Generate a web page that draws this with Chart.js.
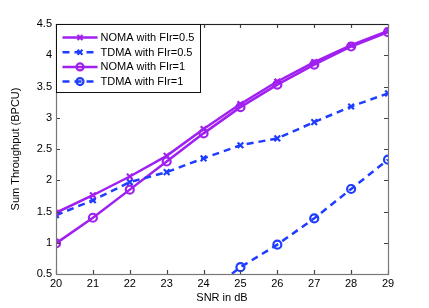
<!DOCTYPE html>
<html><head><meta charset="utf-8">
<script src="https://cdn.jsdelivr.net/npm/chart.js@4"></script>
<style>html,body{margin:0;padding:0;background:#fff}#w{width:429px;height:308px}</style>
</head><body><div id="w"><canvas id="c" width="429" height="308"></canvas></div>
<script>
const snr = [20,21,22,23,24,25,26,27,28,29];
const noma05 = [1.48,1.76,2.06,2.39,2.82,3.22,3.58,3.89,4.16,4.39];
const tdma05 = [1.44,1.68,1.97,2.13,2.35,2.56,2.67,2.93,3.18,3.39];
const noma1  = [0.99,1.40,1.85,2.30,2.75,3.17,3.53,3.85,4.14,4.37];
const tdma1  = [null,null,null,null,0.15,0.61,0.97,1.39,1.86,2.33];
const yTicks = [0.5,1,1.5,2,2.5,3,3.5,4,4.5];
const labels = ['NOMA with FIr=0.5','TDMA with FIr=0.5','NOMA with FIr=1','TDMA with FIr=1'];
const PURPLE = '#a020f0', BLUE = '#1f3dff';
const FONT = '"Liberation Sans", Arial, sans-serif';

function ds(label, data, color, style, dashed){
  return {label, data: data.map((v,i)=>({x:snr[i], y:v})), borderColor:color, backgroundColor:'rgba(0,0,0,0)',
    pointBorderColor:color, pointBackgroundColor:'rgba(0,0,0,0)', pointStyle:style, pointRadius:4,
    pointBorderWidth:2.2, borderWidth:2.5, borderDash: dashed?[7,5]:[], tension:0, spanGaps:false};
}

const framePlugin = {
  id:'frame',
  afterDraw(chart){
    const {ctx, chartArea:a, scales} = chart;
    ctx.save();
    ctx.lineWidth = 1.2;
    ctx.strokeStyle = '#444';
    const tl = 4;
    ctx.beginPath();
    snr.forEach(v=>{ const x = Math.round(scales.x.getPixelForValue(v))+0.5;
      ctx.moveTo(x,a.bottom); ctx.lineTo(x,a.bottom-tl); ctx.moveTo(x,a.top); ctx.lineTo(x,a.top+tl); });
    yTicks.forEach(v=>{ const y = Math.round(scales.y.getPixelForValue(v))+0.5;
      ctx.moveTo(a.left,y); ctx.lineTo(a.left+tl,y); ctx.moveTo(a.right,y); ctx.lineTo(a.right-tl,y); });
    ctx.stroke();
    ctx.strokeStyle = '#777';
    ctx.strokeRect(a.left+0.5, a.top+0.5, a.right-a.left, a.bottom-a.top);
    ctx.strokeStyle = '#222';
    ctx.beginPath(); ctx.moveTo(a.left, a.top+0.5); ctx.lineTo(a.right, a.top+0.5); ctx.stroke();
    // legend
    const lx = a.left+0.5, ly = a.top+0.5, lw = 144, lh = 68;
    ctx.fillStyle = '#fff'; ctx.fillRect(lx, ly, lw, lh);
    ctx.strokeStyle = '#111'; ctx.lineWidth = 1; ctx.strokeRect(lx, ly, lw, lh);
    ctx.font = '11px ' + FONT; ctx.textBaseline = 'middle';
    chart.data.datasets.forEach((d,i)=>{
      const y = ly + 13 + i*14.7;
      ctx.strokeStyle = d.borderColor; ctx.lineWidth = 2.5; ctx.setLineDash(d.borderDash);
      ctx.beginPath(); ctx.moveTo(lx+6, y); ctx.lineTo(lx+41, y); ctx.stroke();
      ctx.setLineDash([]);
      ctx.lineWidth = 2.2; ctx.fillStyle = 'rgba(0,0,0,0)';
      Chart.helpers.drawPoint(ctx, {pointStyle:d.pointStyle, radius:3.5, borderWidth:2.2, rotation:0}, lx+23.5, y);
      ctx.fillStyle = '#000';
      ctx.fillText(d.label, lx+44, y+0.5);
    });
    ctx.restore();
  }
};

new Chart(document.getElementById('c'), {
  type:'line',
  data:{ datasets:[
    ds(labels[0], noma05, PURPLE, 'crossRot', false),
    ds(labels[1], tdma05, BLUE, 'crossRot', true),
    ds(labels[2], noma1, PURPLE, 'circle', false),
    ds(labels[3], tdma1, BLUE, 'circle', true)
  ]},
  options:{
    responsive:false, animation:false, devicePixelRatio:1,
    layout:{padding:{left:0,right:41,top:24,bottom:0}},
    plugins:{legend:{display:false}, tooltip:{enabled:false}},
    scales:{
      x:{type:'linear', min:20, max:29,
        afterBuildTicks(s){ s.ticks = snr.map(v=>({value:v})); },
        afterFit(s){ s.height = 34; },
        grid:{display:false, drawTicks:false}, border:{display:false},
        ticks:{color:'#000', font:{family:FONT,size:11}, padding:3, maxRotation:0},
        title:{display:true, text:'SNR in dB', color:'#000', font:{family:FONT,size:11}, padding:{top:0,bottom:3}}
      },
      y:{type:'linear', min:0.5, max:4.5,
        afterBuildTicks(s){ s.ticks = yTicks.map(v=>({value:v})); },
        afterFit(s){ s.width = 56; },
        grid:{display:false, drawTicks:false}, border:{display:false},
        ticks:{color:'#000', font:{family:FONT,size:11}, padding:4, callback:v=>String(v)},
        title:{display:true, text:'Sum Throughput (BPCU)', color:'#000', font:{family:FONT,size:11}, padding:{top:9,bottom:0}}
      }
    }
  },
  plugins:[framePlugin]
});
</script></body></html>
